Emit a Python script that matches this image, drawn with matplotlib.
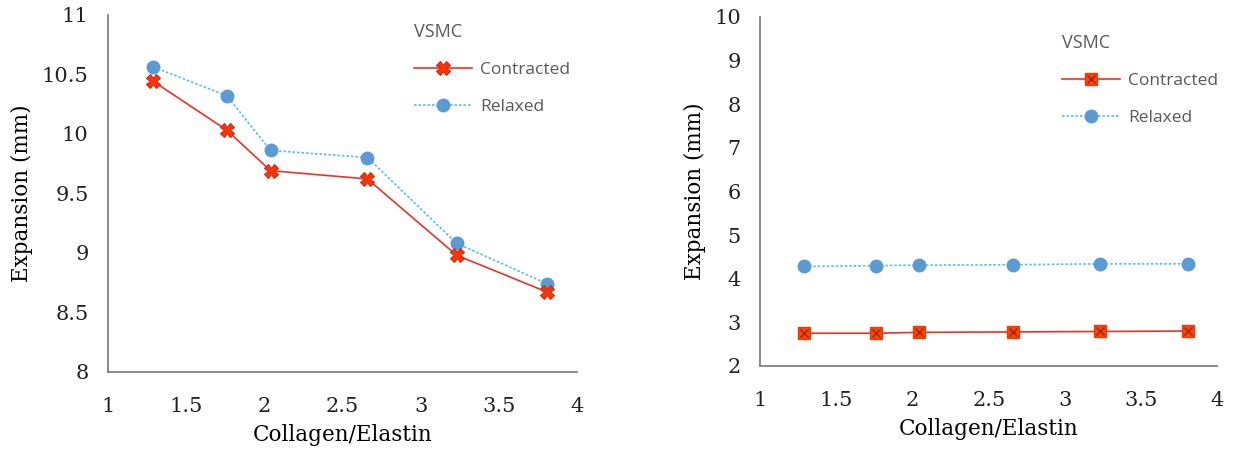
import matplotlib.pyplot as plt
from matplotlib.lines import Line2D

ratio = [1.29, 1.76, 2.04, 2.66, 3.23, 3.81]

# left panel
contracted_a = [10.44, 10.03, 9.69, 9.62, 8.98, 8.67]
relaxed_a = [10.56, 10.32, 9.86, 9.80, 9.08, 8.74]

# right panel
contracted_b = [2.75, 2.75, 2.77, 2.78, 2.79, 2.80]
relaxed_b = [4.28, 4.30, 4.31, 4.32, 4.34, 4.34]

x_ticks = [1, 1.5, 2, 2.5, 3, 3.5, 4]
y_ticks_a = [8, 8.5, 9, 9.5, 10, 10.5, 11]
y_ticks_b = [2, 3, 4, 5, 6, 7, 8, 9, 10]

red = '#E8322B'
blue = '#5B9BD5'
cyan = '#4FC3E8'
serif = 'DejaVu Serif'
sans = 'Open Sans'
grey_txt = '#595959'

fig = plt.figure(figsize=(12.34, 4.58), dpi=100)
ax1 = fig.add_axes([0.0875, 0.188, 0.38, 0.780])
ax2 = fig.add_axes([0.616, 0.201, 0.3705, 0.762])


def style(ax, yticks, ylim):
    ax.set_xlim(1, 4)
    ax.set_ylim(*ylim)
    ax.set_xticks(x_ticks)
    ax.set_xticklabels([f'{t:g}' for t in x_ticks], family=serif, fontsize=15, color='#222222')
    ax.set_yticks(yticks)
    ax.set_yticklabels([f'{t:g}' for t in yticks], family=serif, fontsize=15, color='#222222')
    ax.tick_params(axis='x', length=0, pad=18)
    ax.tick_params(axis='y', length=0, pad=14)
    for s in ['top', 'right']:
        ax.spines[s].set_visible(False)
    for s in ['left', 'bottom']:
        ax.spines[s].set_color('#808080')
        ax.spines[s].set_linewidth(1.3)
    ax.set_xlabel('Collagen/Elastin', family=serif, fontsize=15.5, labelpad=6)
    ax.set_ylabel('Expansion (mm)', family=serif, fontsize=15.5, labelpad=6)


def add_legend(ax, handles, anchor):
    leg = ax.legend(handles, ['Contracted', 'Relaxed'], loc='upper left', bbox_to_anchor=anchor,
                    frameon=False, title='VSMC', handlelength=3.3, labelspacing=1.2,
                    handletextpad=0.5, alignment='left',
                    prop={'family': sans, 'size': 12.5},
                    title_fontproperties={'family': sans, 'size': 13})
    for t in leg.get_texts():
        t.set_color(grey_txt)
    leg.get_title().set_color(grey_txt)
    return leg


relaxed_style = dict(color=cyan, lw=1.2, ls=(0, (1.5, 1.2)), marker='o', ms=9, mfc=blue, mec=blue)

# left: X markers for contracted
x_style = dict(color=red, lw=1.2, marker='X', ms=10, mfc='#FF3300', mec='#D42A10', mew=0.8)
ax1.plot(ratio, relaxed_a, **relaxed_style)
ax1.plot(ratio, contracted_a, **x_style)
style(ax1, y_ticks_a, (8, 11))
add_legend(ax1, [Line2D([], [], **x_style), Line2D([], [], **relaxed_style)], (0.62, 1.02))

# right: square markers with a cross for contracted
sq_style = dict(color=red, lw=1.2, marker='s', ms=9, mfc='#FF4400', mec='#E04010')
cross_style = dict(ls='none', marker='x', ms=6, mec='#A02000', mew=1)
ax2.plot(ratio, relaxed_b, **relaxed_style)
ax2.plot(ratio, contracted_b, **sq_style)
ax2.plot(ratio, contracted_b, **cross_style)
style(ax2, y_ticks_b, (2, 10))
add_legend(ax2, [(Line2D([], [], **sq_style), Line2D([], [], **cross_style)),
                 Line2D([], [], **relaxed_style)], (0.627, 0.995))

fig.savefig('out.png', dpi=100)
